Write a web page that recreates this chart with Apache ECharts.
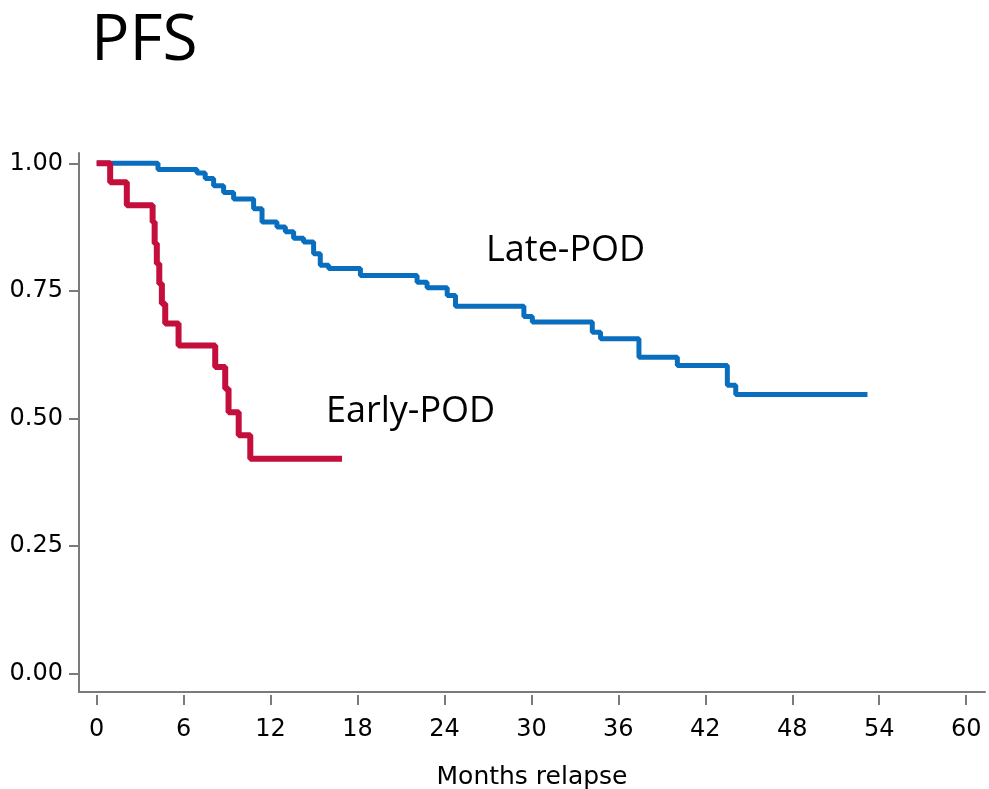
<!DOCTYPE html>
<html>
<head>
<meta charset="utf-8">
<script src="https://cdn.jsdelivr.net/npm/echarts@6/dist/echarts.min.js"></script>
<style>html,body{margin:0;padding:0;background:#fff}#c{width:989px;height:789px}</style>
</head>
<body>
<div id="c"></div>
<script>
// Early-POD: event times (months) and survival after each event
var earlyTimes = [0.93, 2.08, 3.86, 4.0, 4.15, 4.32, 4.5, 4.73, 5.65, 8.18, 8.87, 9.1, 9.8, 10.6];
var earlySurv  = [0.963, 0.918, 0.885, 0.843, 0.803, 0.764, 0.725, 0.686, 0.643, 0.601, 0.558, 0.512, 0.467, 0.421];
var earlyEnd = 16.93;
// Late-POD
var lateTimes = [4.23, 6.92, 7.49, 8.07, 8.76, 9.45, 10.83, 11.41, 12.44, 13.02, 13.59, 14.28, 14.97, 15.43, 16.01, 18.2, 22.11, 22.8, 24.19, 24.76, 29.48, 30.06, 34.2, 34.77, 37.42, 40.07, 43.52, 44.1];
var lateSurv  = [0.988, 0.981, 0.970, 0.956, 0.943, 0.930, 0.911, 0.885, 0.875, 0.866, 0.853, 0.846, 0.823, 0.800, 0.794, 0.780, 0.767, 0.756, 0.741, 0.720, 0.700, 0.689, 0.669, 0.656, 0.620, 0.604, 0.565, 0.547];
var lateEnd = 53.19;
// Axis ticks
var xTicks = [0, 6, 12, 18, 24, 30, 36, 42, 48, 54, 60];
var yTicks = [0, 0.25, 0.5, 0.75, 1.0];

function km(times, surv, end) {
  var d = [[0, 1]];
  for (var i = 0; i < times.length; i++) d.push([times[i], surv[i]]);
  d.push([end, surv[surv.length - 1]]);
  return d;
}

var axisGray = '#7a7a7a';
var labelFont = {fontFamily: 'DejaVu Sans', fontSize: 24, color: '#000'};

var chart = echarts.init(document.getElementById('c'));
chart.setOption({
  animation: false,
  grid: {left: 79, right: 4, top: 153, bottom: 97, containLabel: false, outerBoundsMode: 'none'},
  xAxis: [{
    type: 'value', min: -1.22, max: 61.3, position: 'bottom',
    axisLine: {show: true, onZero: false, lineStyle: {color: axisGray, width: 2}},
    axisTick: {show: false}, axisLabel: {show: false}, splitLine: {show: false}
  }, {
    type: 'value', min: -1.22, max: 61.3, position: 'bottom', offset: 3,
    axisLine: {show: false, onZero: false},
    axisTick: {show: true, customValues: xTicks, length: 10, lineStyle: {color: axisGray, width: 2}},
    axisLabel: Object.assign({customValues: xTicks, margin: 23}, labelFont),
    splitLine: {show: false},
    name: 'Months relapse', nameLocation: 'middle', nameGap: 70,
    nameTextStyle: {fontFamily: 'DejaVu Sans', fontSize: 25, color: '#000'}
  }],
  yAxis: {
    type: 'value', min: -0.036, max: 1.0202,
    axisLine: {show: true, onZero: false, lineStyle: {color: axisGray, width: 2}},
    axisTick: {show: true, customValues: yTicks, length: 10, lineStyle: {color: axisGray, width: 2}},
    axisLabel: Object.assign({customValues: yTicks, margin: 16, formatter: function (v) { return v.toFixed(2); }}, labelFont),
    splitLine: {show: false}
  },
  graphic: [
    {type: 'text', left: 91, top: 10, style: {text: 'PFS', fontFamily: 'Open Sans', fontSize: 64, fill: '#000'}},
    {type: 'text', left: 486, top: 233, style: {text: 'Late-POD', fontFamily: 'Open Sans', fontSize: 36, fill: '#000'}},
    {type: 'text', left: 326, top: 394, style: {text: 'Early-POD', fontFamily: 'Open Sans', fontSize: 36, fill: '#000'}}
  ],
  series: [{
    name: 'Late-POD', type: 'line', step: 'end', showSymbol: false, xAxisIndex: 0,
    data: km(lateTimes, lateSurv, lateEnd),
    lineStyle: {color: '#0A6EBE', width: 5}, z: 2
  }, {
    name: 'Early-POD', type: 'line', step: 'end', showSymbol: false, xAxisIndex: 0,
    data: km(earlyTimes, earlySurv, earlyEnd),
    lineStyle: {color: '#C40F3C', width: 6}, z: 3
  }]
});
</script>
</body>
</html>
